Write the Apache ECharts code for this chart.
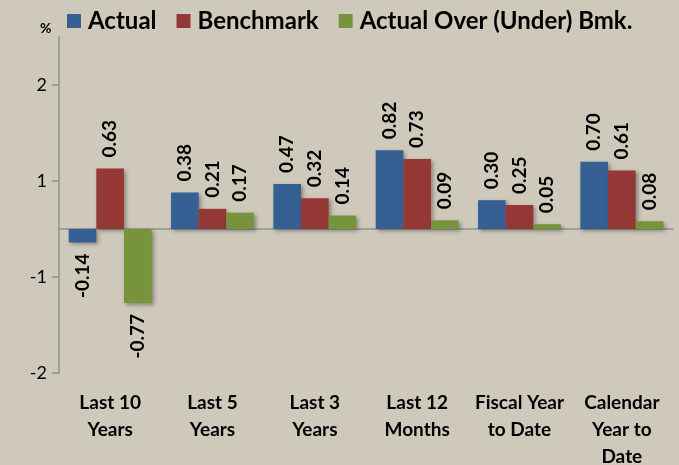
<!DOCTYPE html>
<html>
<head>
<meta charset="utf-8">
<script src="https://cdn.jsdelivr.net/npm/echarts@6/dist/echarts.min.js"></script>
<style>
  html, body { margin: 0; padding: 0; background: #cfc9bb; }
  #chart { width: 679px; height: 465px; }
</style>
</head>
<body>
<div id="chart"></div>
<script>
// categories (line breaks as in the picture)
const categories = [
  'Last 10\nYears',
  'Last 5\nYears',
  'Last 3\nYears',
  'Last 12\nMonths',
  'Fiscal Year\nto Date',
  'Calendar\nYear to\nDate'
];
const actual = [-0.14, 0.38, 0.47, 0.82, 0.30, 0.70];
const benchmark = [0.63, 0.21, 0.32, 0.73, 0.25, 0.61];
const overUnder = [-0.77, 0.17, 0.14, 0.09, 0.05, 0.08];

// y ticks sit on the half units, labels rounded like the original
const yTickValues = [-1.5, -0.5, 0.5, 1.5];
const yTickLabels = ['-2', '-1', '1', '2'];

const FONT = 'Lato';
const colors = ['#365f93', '#953735', '#77933c'];

// labels above positive bars, below negative ones
function barData(values) {
  return values.map(v => ({
    value: v,
    label: v < 0
      ? { position: 'bottom', align: 'right' }
      : { position: 'top', align: 'left' }
  }));
}

function makeSeries(name, values, color) {
  return {
    name: name,
    type: 'bar',
    xAxisIndex: 0,
    barGap: 0,
    barCategoryGap: '19%',
    itemStyle: {
      color: color,
      shadowBlur: 4,
      shadowOffsetX: 2,
      shadowOffsetY: 2,
      shadowColor: 'rgba(0,0,0,0.35)'
    },
    label: {
      show: true,
      rotate: 90,
      distance: 11,
      verticalAlign: 'middle',
      fontFamily: FONT,
      fontWeight: 'bold',
      fontSize: 19,
      color: '#000',
      formatter: p => p.value.toFixed(2)
    },
    data: barData(values)
  };
}

const myChart = echarts.init(document.getElementById('chart'));
myChart.setOption({
  backgroundColor: '#cfc9bb',
  animation: false,
  title: {
    text: '%',
    left: 35,
    top: 16,
    textStyle: { fontFamily: FONT, fontSize: 14, fontWeight: 'bold', color: '#000' }
  },
  legend: {
    left: 62,
    top: 4,
    itemWidth: 14,
    itemHeight: 14,
    itemGap: 20,
    icon: 'rect',
    textStyle: { fontFamily: FONT, fontSize: 24, fontWeight: 'bold', color: '#000', padding: [0, 0, 0, 2] },
    data: ['Actual', 'Benchmark', 'Actual Over (Under) Bmk.']
  },
  grid: { left: 59, right: 6, top: 37, bottom: 92, outerBoundsMode: 'none' },
  xAxis: [
    {
      type: 'category',
      data: categories,
      position: 'bottom',
      axisLine: { show: false, onZero: false },
      axisTick: { show: false },
      axisLabel: {
        interval: 0,
        margin: 16,
        fontFamily: FONT,
        fontSize: 19,
        fontWeight: 'bold',
        lineHeight: 27,
        color: '#000'
      }
    },
    {
      type: 'category',
      data: categories,
      position: 'top',
      axisLine: { show: true, onZero: true, lineStyle: { color: '#8e9094', width: 1.5 } },
      axisTick: { show: false },
      axisLabel: { show: false }
    }
  ],
  yAxis: {
    type: 'value',
    min: -1.5,
    max: 2,
    splitLine: { show: false },
    axisLine: { show: true, lineStyle: { color: '#8e8e8e', width: 1.5 } },
    axisTick: { show: true, length: 7, customValues: yTickValues, lineStyle: { color: '#8e8e8e', width: 1.5 } },
    axisLabel: {
      customValues: yTickValues,
      margin: 12,
      fontFamily: FONT,
      fontSize: 18,
      color: '#000',
      formatter: v => {
        const i = yTickValues.indexOf(v);
        return i >= 0 ? yTickLabels[i] : '';
      }
    }
  },
  series: [
    makeSeries('Actual', actual, colors[0]),
    makeSeries('Benchmark', benchmark, colors[1]),
    makeSeries('Actual Over (Under) Bmk.', overUnder, colors[2])
  ]
});
</script>
</body>
</html>
